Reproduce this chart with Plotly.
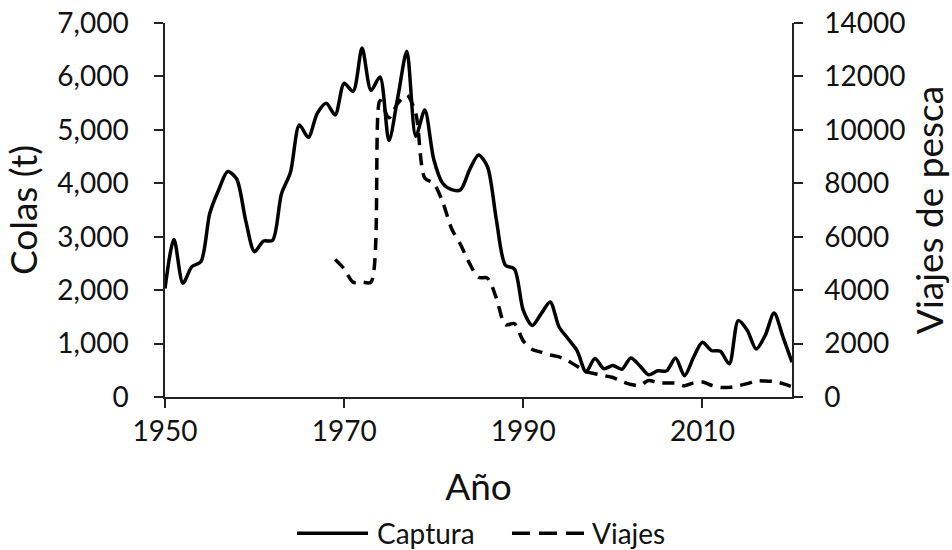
import plotly.graph_objects as go

years = list(range(1950, 2021))
captura = [2030, 2950, 2130, 2440, 2530, 3440, 3880, 4220, 4080, 3310,
           2720, 2920, 2930, 3800, 4200, 5090, 4860, 5310, 5500, 5280,
           5870, 5720, 6530, 5740, 5990, 4800, 5620, 6470, 4880, 5370,
           4450, 4000, 3880, 3880, 4250, 4530, 4310, 3310, 2470, 2400,
           1620, 1340, 1560, 1780, 1310, 1090, 870, 470, 720, 530,
           590, 520, 730, 585, 415, 490, 490, 730, 400, 740,
           1025, 870, 855, 620, 1430, 1250, 900, 1150, 1570, 1120,
           650]

years_v = list(range(1969, 2021))
viajes = [5150, 4800, 4300, 4300, 4300, 11100, 10450, 11000, 11300, 10600,
          8200, 8000, 7300, 6300, 5700, 5000, 4480, 4450, 3700, 2700,
          2750, 2100, 1780, 1680, 1570, 1500, 1350, 1150, 950, 870,
          800, 730, 580, 470, 430, 620, 540, 520, 520, 420,
          530, 560, 440, 360, 360, 420, 500, 600, 600, 580,
          500, 380]

x_ticks = [1950, 1970, 1990, 2010]
series_names = ["Captura", "Viajes"]

FONT = "Lato"

fig = go.Figure()
fig.add_trace(go.Scatter(
    x=years, y=captura, name=series_names[0], mode="lines", showlegend=False,
    line=dict(color="black", width=3.5, shape="spline", smoothing=0.8)))
fig.add_trace(go.Scatter(
    x=years_v, y=viajes, name=series_names[1], mode="lines", yaxis="y2", showlegend=False,
    line=dict(color="black", width=3.5, dash="12px,8px", shape="spline", smoothing=0.8)))

axis_common = dict(showline=True, linecolor="#222", linewidth=1.5, ticks="outside",
                   ticklen=9, tickcolor="#222", tickwidth=1.5, showgrid=False,
                   zeroline=False, automargin=False,
                   tickfont=dict(family=FONT, size=28, color="#111"))

# custom legend (long keys like the reference)
leg_y = -0.364
shapes = [
    dict(type="line", xref="paper", yref="paper", x0=0.2105, x1=0.3238, y0=leg_y, y1=leg_y,
         line=dict(color="black", width=3.5)),
    dict(type="line", xref="paper", yref="paper", x0=0.5534, x1=0.6699, y0=leg_y, y1=leg_y,
         line=dict(color="black", width=3.5, dash="18px,9px")),
]
annotations = [
    dict(text=series_names[0], xref="paper", yref="paper", x=0.3349, y=leg_y,
         xanchor="left", yanchor="middle", showarrow=False,
         font=dict(family=FONT, size=28, color="#111")),
    dict(text=series_names[1], xref="paper", yref="paper", x=0.6778, y=leg_y,
         xanchor="left", yanchor="middle", showarrow=False,
         font=dict(family=FONT, size=28, color="#111")),
]

fig.update_layout(
    width=952, height=550,
    margin=dict(l=165, r=160, t=23, b=153),
    paper_bgcolor="white", plot_bgcolor="white",
    font=dict(family=FONT, color="#111"),
    xaxis=dict(range=[1950, 2020], tickvals=x_ticks, **axis_common,
               title=dict(text="Año", font=dict(family=FONT, size=37), standoff=28)),
    yaxis=dict(range=[0, 7000], dtick=1000, tickformat=",", **axis_common,
               ticklabelstandoff=20,
               title=dict(text="Colas (t)", font=dict(family=FONT, size=37), standoff=16)),
    yaxis2=dict(range=[0, 14000], dtick=2000, tickformat="d", overlaying="y", side="right",
                **axis_common, ticklabelstandoff=16,
                title=dict(text="Viajes de pesca", font=dict(family=FONT, size=37), standoff=12)),
    shapes=shapes,
    annotations=annotations,
    showlegend=False,
)

fig.write_html("out.html", config={"displayModeBar": False},
               post_script="document.body.style.margin='0';document.body.style.padding='0';")
